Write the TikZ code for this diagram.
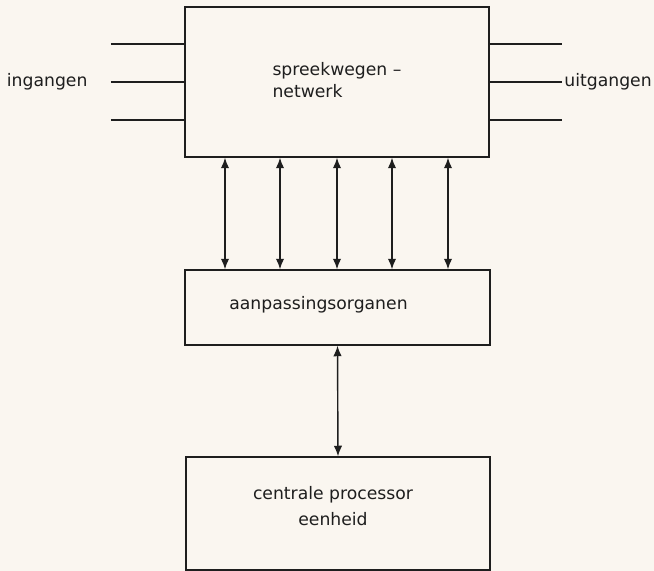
\documentclass[tikz,border=0pt]{standalone}
\usepackage{fontspec}
\setmainfont{DejaVu Sans}
\usepackage{tikz}
\usetikzlibrary{arrows.meta,positioning}
\definecolor{paper}{RGB}{250,246,240}
\definecolor{ink}{RGB}{30,30,30}

\begin{document}
\begin{tikzpicture}[x=0.02cm,y=-0.02cm,>={Latex[length=6pt,width=4.8pt]},
                    thick,draw=ink,
                    box/.style={rectangle,draw=ink,thick,inner sep=0pt},
                    txt/.style={text=ink,font=\fontsize{9.8}{11.5}\selectfont,inner sep=1pt}]

  %Background%
  \fill[paper] (0,0) rectangle (654,571);
  \useasboundingbox (0,0) rectangle (654,571);

  %Boxes%
  \node[box,minimum width=304*0.02cm,minimum height=150*0.02cm] (net) at (337,82) {};
  \node[box,minimum width=305*0.02cm,minimum height=75*0.02cm] (adapt) at (337.5,307.5) {};
  \node[box,minimum width=304*0.02cm,minimum height=113*0.02cm] (cpu) at (338,513.5) {};

  %Texts%
  \node[txt,align=left] (nettext) at (337,80) {spreekwegen –\\[1pt]netwerk};
  \node[txt] (adapttext) at (318.5,305) {aanpassingsorganen};
  \node[txt,align=center,font=\fontsize{9.8}{15}\selectfont] (cputext) at (333,506) {centrale processor\\eenheid};

  %Inputs and outputs%
  \foreach \i/\y in {1/44,2/82,3/120}{
    \coordinate (in\i) at (111,\y);
    \coordinate (out\i) at (562,\y);
    \draw (in\i) -- (in\i -| net.west);
    \draw (net.east |- out\i) -- (out\i);
  }
  \node[txt,left=12pt of in2] (inlabel) {ingangen};
  \node[txt,right=0pt of out2] (outlabel) {uitgangen};

  %Bus%
  \foreach \i/\x in {1/225,2/280,3/337,4/392,5/448}{
    \coordinate (bus\i) at (\x,200);
    \draw[<->] (bus\i |- net.south) -- (bus\i |- adapt.north);
  }
  \draw[<->] (adapt.south) -- (cpu.north);
\end{tikzpicture}
\end{document}
